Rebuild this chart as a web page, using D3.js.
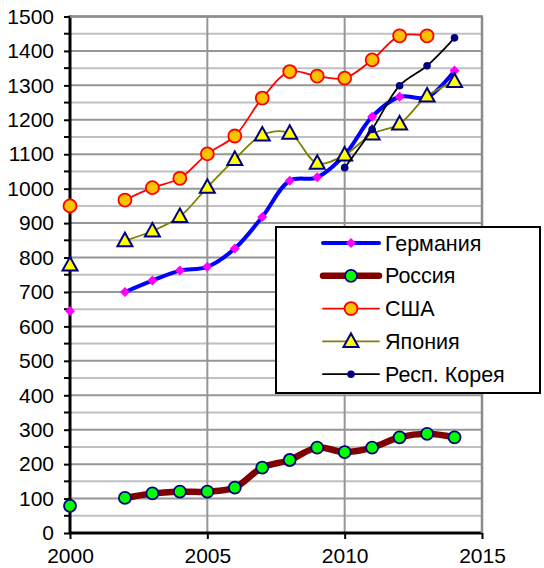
<!DOCTYPE html>
<html><head><meta charset="utf-8">
<script src="https://cdn.jsdelivr.net/npm/d3@7/dist/d3.min.js"></script>
<style>body{margin:0;background:#fff}svg{display:block}text{font-family:"Liberation Sans",Arial,sans-serif;fill:#000}</style>
</head><body><svg id="c" width="544" height="568"></svg>
<script>
const years = [2000,2001,2002,2003,2004,2005,2006,2007,2008,2009,2010,2011,2012,2013,2014];
const germany = [645,null,700,733,762,773,826,918,1023,1033,1098,1209,1267,1265,1343];
const russia  = [79,null,102,115,120,120,132,190,212,248,235,248,278,288,278];
const usa     = [950,null,967,1003,1030,1101,1153,1263,1340,1327,1321,1374,1444,1444,null];
const japan   = [778,null,849,877,919,1004,1085,1156,1161,1074,1098,1159,1188,1269,1311];
const korea   = [null,null,null,null,null,null,null,null,null,null,1061,1172,1299,1357,1438];
const seriesNames = ["Германия","Россия","США","Япония","Респ. Корея"];
const yTicks = [0,100,200,300,400,500,600,700,800,900,1000,1100,1200,1300,1400,1500];
const xTicks = [2000,2005,2010,2015];

const svg = d3.select("#c");
const x = d3.scaleLinear().domain([2000,2015]).range([70,482]);
const y = d3.scaleLinear().domain([0,1500]).range([533,16.5]);

// gridlines
const minor = d3.range(50,1500,100);
svg.append("g").selectAll("line").data(minor).join("line")
  .attr("x1",x(2000)).attr("x2",x(2015)).attr("y1",d=>y(d)).attr("y2",d=>y(d))
  .attr("stroke","#c0c0c0").attr("stroke-width",2);
svg.append("g").selectAll("line").data(yTicks.slice(1)).join("line")
  .attr("x1",x(2000)).attr("x2",x(2015)).attr("y1",d=>y(d)).attr("y2",d=>y(d))
  .attr("stroke","#969696").attr("stroke-width",2);
svg.append("g").selectAll("line").data([2005,2010,2015]).join("line")
  .attr("x1",d=>x(d)).attr("x2",d=>x(d)).attr("y1",y(0)).attr("y2",y(1500))
  .attr("stroke","#969696").attr("stroke-width",2);

// axes
const yAxis = d3.axisLeft(y).tickValues(yTicks).tickFormat(d3.format("d")).tickSize(6).tickPadding(10);
const gy = svg.append("g").attr("transform",`translate(${x(2000)},0)`).call(yAxis);
gy.select(".domain").remove();
gy.selectAll(".tick line").attr("stroke","#000").attr("stroke-width",2);
gy.selectAll("text").attr("font-size",21).attr("font-family","Liberation Sans, Arial, sans-serif").attr("fill","#000");
svg.append("g").selectAll("line").data(minor).join("line")
  .attr("x1",x(2000)-6).attr("x2",x(2000)).attr("y1",d=>y(d)).attr("y2",d=>y(d))
  .attr("stroke","#000").attr("stroke-width",2);
const xAxis = d3.axisBottom(x).tickValues(xTicks).tickFormat(d3.format("d")).tickSize(6).tickPadding(9);
const gx = svg.append("g").attr("transform",`translate(0,${y(0)})`).call(xAxis);
gx.select(".domain").remove();
gx.selectAll(".tick line").attr("stroke","#000").attr("stroke-width",2);
gx.selectAll("text").attr("font-size",21).attr("font-family","Liberation Sans, Arial, sans-serif").attr("fill","#000");
svg.append("line").attr("x1",x(2000)).attr("x2",x(2000)).attr("y1",y(0)+1).attr("y2",y(1500)-1).attr("stroke","#000").attr("stroke-width",3);
svg.append("line").attr("x1",x(2000)-1).attr("x2",x(2015)+1).attr("y1",y(0)).attr("y2",y(0)).attr("stroke","#000").attr("stroke-width",3);
svg.append("line").attr("x1",x(2000)).attr("x2",x(2015)+1).attr("y1",y(1500)).attr("y2",y(1500)).attr("stroke","#8c8c8c").attr("stroke-width",2.5);
svg.append("line").attr("x1",x(2015)).attr("x2",x(2015)).attr("y1",y(1500)).attr("y2",y(0)).attr("stroke","#8c8c8c").attr("stroke-width",2.5);

function marker(g, type, cx, cy){
  if(type==="diamond"){
    g.append("path").attr("d",`M${cx},${cy-5}L${cx+5},${cy}L${cx},${cy+5}L${cx-5},${cy}Z`).attr("fill","#ff00ff");
  } else if(type==="green"){
    g.append("circle").attr("cx",cx).attr("cy",cy).attr("r",6).attr("fill","#00ff00").attr("stroke","#000080").attr("stroke-width",1.8);
  } else if(type==="orange"){
    g.append("circle").attr("cx",cx).attr("cy",cy).attr("r",6.5).attr("fill","#ffc000").attr("stroke","#ff0000").attr("stroke-width",1.8);
  } else if(type==="tri"){
    g.append("path").attr("d",`M${cx},${cy-8}L${cx+7.5},${cy+5.5}L${cx-7.5},${cy+5.5}Z`).attr("fill","#ffff00").attr("stroke","#000080").attr("stroke-width",2).attr("stroke-linejoin","miter");
  } else if(type==="dot"){
    g.append("circle").attr("cx",cx).attr("cy",cy).attr("r",3.8).attr("fill","#000080");
  }
}

const series = [
  {name:seriesNames[0], vals:germany, color:"#0000ff", w:4, m:"diamond"},
  {name:seriesNames[1], vals:russia, color:"#800000", w:6.5, m:"green"},
  {name:seriesNames[2], vals:usa, color:"#ff0000", w:1.8, m:"orange"},
  {name:seriesNames[3], vals:japan, color:"#808000", w:1.8, m:"tri"},
  {name:seriesNames[4], vals:korea, color:"#000000", w:1.8, m:"dot"}
];

const line = d3.line().defined(d=>d[1]!=null).x(d=>x(d[0])).y(d=>y(d[1])).curve(d3.curveCatmullRom.alpha(0.5));
series.forEach(s=>{
  const pts = years.map((yr,i)=>[yr,s.vals[i]]);
  const g = svg.append("g");
  g.append("path").datum(pts).attr("d",line).attr("fill","none").attr("stroke",s.color).attr("stroke-width",s.w).attr("stroke-linejoin","round").attr("stroke-linecap","round");
  pts.filter(p=>p[1]!=null).forEach(p=>marker(g,s.m,x(p[0]),y(p[1])));
});

// legend
const lg = svg.append("g");
lg.append("rect").attr("x",276).attr("y",227).attr("width",264).attr("height",166).attr("fill","#fff").attr("stroke","#000").attr("stroke-width",2);
series.forEach((s,i)=>{
  const cy = 243 + i*32.8;
  lg.append("line").attr("x1",323).attr("x2",379).attr("y1",cy).attr("y2",cy).attr("stroke",s.color).attr("stroke-width",s.w).attr("stroke-linecap","round");
  marker(lg,s.m,351,cy);
  lg.append("text").attr("x",385).attr("y",cy+7.5).attr("font-size",21.5).attr("textLength",null).text(s.name);
});
</script></body></html>
